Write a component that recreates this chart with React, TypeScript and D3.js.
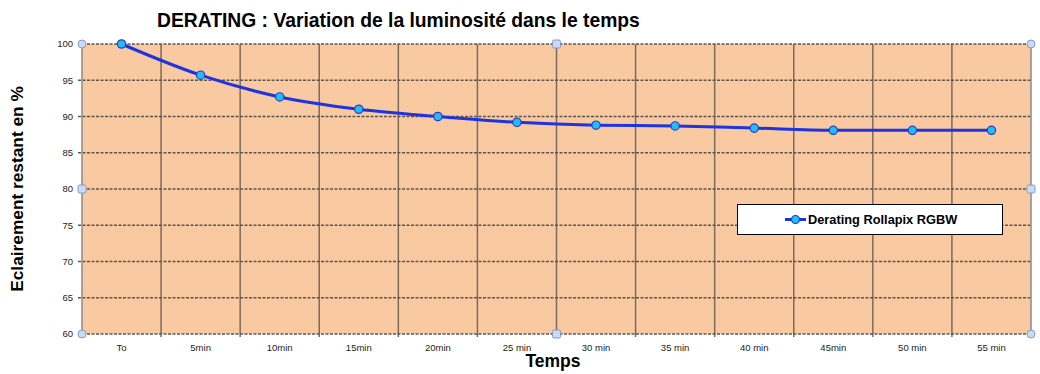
import React, { useEffect, useRef } from 'react';
import * as d3 from 'd3';

const categories = ['To', '5min', '10min', '15min', '20min', '25 min', '30 min', '35 min', '40 min', '45min', '50 min', '55 min'];
const values = [100, 95.7, 92.7, 91.0, 90.0, 89.2, 88.8, 88.7, 88.4, 88.1, 88.1, 88.1];
const yTicks = [60, 65, 70, 75, 80, 85, 90, 95, 100];
const seriesName = 'Derating Rollapix RGBW';

export default function App() {
  const ref = useRef<SVGSVGElement>(null);

  useEffect(() => {
    if (!ref.current) return;
    const svg = d3.select(ref.current);
    svg.selectAll('*').remove();

    const left = 82, right = 1031, top = 44, bottom = 334;
    const font = 'Arial, "Liberation Sans", sans-serif';

    const x = d3.scaleBand().domain(categories).range([left, right]);
    const y = d3.scaleLinear().domain([60, 100]).range([bottom, top]);

    // plot background
    svg.append('rect')
      .attr('x', left).attr('y', top)
      .attr('width', right - left).attr('height', bottom - top)
      .attr('fill', '#f9caa2');

    // vertical grid lines between categories
    svg.append('g').selectAll('line')
      .data(categories.slice(1))
      .enter().append('line')
      .attr('x1', d => x(d)!).attr('x2', d => x(d)!)
      .attr('y1', top).attr('y2', bottom + 3)
      .attr('stroke', '#7a6b5d').attr('stroke-width', 1.5);

    // horizontal dashed grid
    svg.append('g').selectAll('line')
      .data(yTicks)
      .enter().append('line')
      .attr('x1', left - 4).attr('x2', right)
      .attr('y1', d => y(d)).attr('y2', d => y(d))
      .attr('stroke', '#5e554e').attr('stroke-width', 1.4)
      .attr('stroke-dasharray', '3,1.5');

    // side edges
    svg.append('line').attr('x1', left).attr('x2', left).attr('y1', top).attr('y2', bottom)
      .attr('stroke', '#8a8a8a').attr('stroke-width', 1.5);
    svg.append('line').attr('x1', right).attr('x2', right).attr('y1', top).attr('y2', bottom)
      .attr('stroke', '#8a8a8a').attr('stroke-width', 1.5);

    // y tick labels
    svg.append('g').selectAll('text')
      .data(yTicks)
      .enter().append('text')
      .attr('x', 73).attr('y', d => y(d))
      .attr('dy', '0.35em').attr('text-anchor', 'end')
      .attr('font-family', font).attr('font-size', 9.5).attr('fill', '#222')
      .text(d => d);

    // x tick labels
    svg.append('g').selectAll('text')
      .data(categories)
      .enter().append('text')
      .attr('x', d => x(d)! + x.bandwidth() / 2).attr('y', 351)
      .attr('text-anchor', 'middle')
      .attr('font-family', font).attr('font-size', 9.5).attr('fill', '#222')
      .text(d => d);

    // line
    const pts = categories.map((c, i) => [x(c)! + x.bandwidth() / 2, y(values[i])] as [number, number]);
    svg.append('path')
      .attr('d', d3.line().curve(d3.curveMonotoneX)(pts))
      .attr('fill', 'none').attr('stroke', '#1e34e0').attr('stroke-width', 3);

    svg.append('g').selectAll('circle')
      .data(pts)
      .enter().append('circle')
      .attr('cx', d => d[0]).attr('cy', d => d[1]).attr('r', 4.2)
      .attr('fill', '#22bdf2').attr('stroke', '#2a3bd0').attr('stroke-width', 1.2);

    // selection handles
    const corners = [[left, top], [right, top], [left, bottom], [right, bottom]];
    const mids = [[(left + right) / 2, top], [left, (top + bottom) / 2], [right, (top + bottom) / 2], [(left + right) / 2, bottom]];
    svg.append('g').selectAll('circle')
      .data(corners)
      .enter().append('circle')
      .attr('cx', d => d[0]).attr('cy', d => d[1]).attr('r', 4)
      .attr('fill', '#cdd9ef').attr('stroke', '#7f9ccc').attr('stroke-width', 1);
    svg.append('g').selectAll('rect')
      .data(mids)
      .enter().append('rect')
      .attr('x', d => d[0] - 4).attr('y', d => d[1] - 4)
      .attr('width', 8).attr('height', 8).attr('rx', 1.5)
      .attr('fill', '#cdd9ef').attr('stroke', '#7f9ccc').attr('stroke-width', 1);

    // legend
    svg.append('rect')
      .attr('x', 737.5).attr('y', 204.5).attr('width', 265).attr('height', 30)
      .attr('fill', '#fff').attr('stroke', '#000').attr('stroke-width', 1);
    svg.append('line').attr('x1', 785).attr('x2', 806).attr('y1', 219.5).attr('y2', 219.5)
      .attr('stroke', '#1e34e0').attr('stroke-width', 3);
    svg.append('circle').attr('cx', 795.5).attr('cy', 219.5).attr('r', 4)
      .attr('fill', '#22bdf2').attr('stroke', '#2a3bd0').attr('stroke-width', 1.2);
    svg.append('text').attr('x', 808).attr('y', 224)
      .attr('font-family', font).attr('font-size', 12.8).attr('font-weight', 'bold')
      .text(seriesName);

    // titles
    svg.append('text').attr('x', 157).attr('y', 27)
      .attr('font-family', font).attr('font-size', 19.3).attr('font-weight', 'bold')
      .text('DERATING : Variation de la luminosité dans le temps');
    svg.append('text').attr('x', 553).attr('y', 367).attr('text-anchor', 'middle')
      .attr('font-family', font).attr('font-size', 17.5).attr('font-weight', 'bold')
      .text('Temps');
    svg.append('text')
      .attr('transform', `translate(23,${(top + bottom) / 2}) rotate(-90)`)
      .attr('text-anchor', 'middle')
      .attr('font-family', font).attr('font-size', 17.3).attr('font-weight', 'bold')
      .text('Eclairement restant en %');
  }, []);

  return (
    <svg ref={ref} width={1040} height={374}
      style={{ position: 'absolute', left: 0, top: 0, background: '#fff' }} />
  );
}
